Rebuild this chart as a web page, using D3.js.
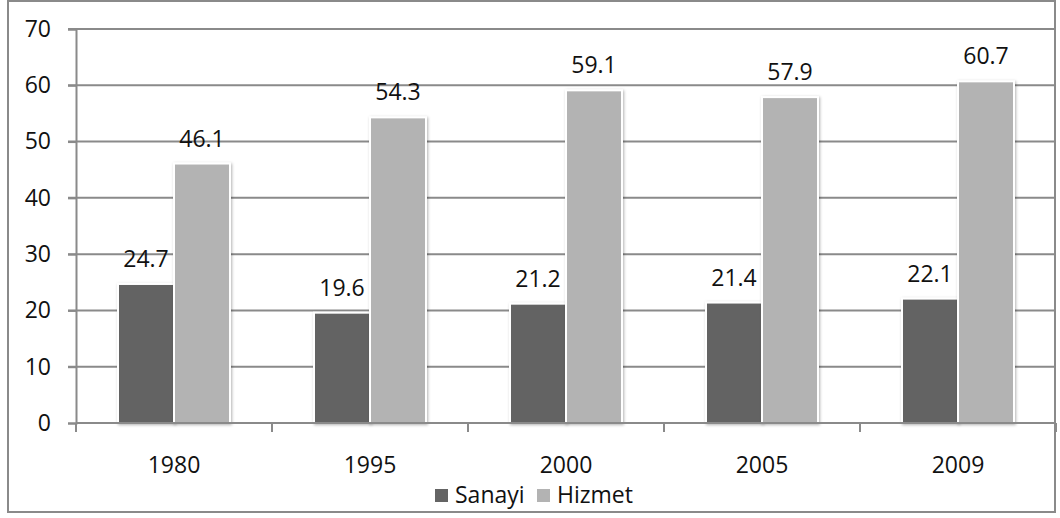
<!DOCTYPE html>
<html><head><meta charset="utf-8">
<script src="https://cdn.jsdelivr.net/npm/d3@7/dist/d3.min.js"></script>
<style>body{margin:0;background:#fff}svg{display:block}text{font-family:"Open Sans",sans-serif;fill:#111}</style>
</head><body>
<svg id="c" width="1060" height="518"></svg>
<script>
const years = ["1980","1995","2000","2005","2009"];
const seriesNames = ["Sanayi","Hizmet"];
const sanayi = [24.7,19.6,21.2,21.4,22.1];
const hizmet = [46.1,54.3,59.1,57.9,60.7];
const yTicks = [0,10,20,30,40,50,60,70];
const colors = ["#646464","#b3b3b3"];

const svg = d3.select("#c");
const defs = svg.append("defs");
const f = defs.append("filter").attr("id","sh").attr("x","-20%").attr("y","-10%").attr("width","140%").attr("height","120%");
f.append("feDropShadow").attr("dx",1).attr("dy",1).attr("stdDeviation",1.5).attr("flood-color","#000").attr("flood-opacity",0.3);

const L=76, R=1056, T=29, B=423;
const x = d3.scaleBand().domain(years).range([L,R]);
const xi = d3.scaleBand().domain(seriesNames).range([0,112]);
const y = d3.scaleLinear().domain([0,70]).range([B,T]);
const fs = 23;

// gridlines
svg.append("g").selectAll("line").data(yTicks.filter(d=>d>0)).join("line")
  .attr("x1",L-8).attr("x2",R).attr("y1",d=>y(d)).attr("y2",d=>y(d))
  .attr("stroke","#8a8a8a").attr("stroke-width",2);

// y axis
const ya = svg.append("g").attr("transform",`translate(${L},0)`).call(d3.axisLeft(y).tickValues(yTicks).tickSize(8).tickPadding(17).tickFormat(d3.format("d")));
ya.select(".domain").attr("stroke","#8a8a8a").attr("stroke-width",2);
ya.selectAll(".tick line").attr("stroke","#8a8a8a").attr("stroke-width",2);
ya.selectAll("text").style("font-size",fs+"px").style("font-family","Open Sans").attr("fill","#111");

// bars
const data = years.map((yr,i)=>({yr, vals:[sanayi[i],hizmet[i]]}));
const g = svg.append("g").selectAll("g").data(data).join("g")
  .attr("transform",d=>`translate(${x(d.yr)+x.bandwidth()/2-56},0)`);
g.selectAll("rect").data(d=>d.vals.map((v,j)=>({v,s:seriesNames[j],j}))).join("rect")
  .attr("x",d=>xi(d.s)).attr("width",xi.bandwidth())
  .attr("y",d=>y(d.v)).attr("height",d=>B-y(d.v))
  .attr("fill",d=>colors[d.j]).attr("stroke","#fff").attr("stroke-width",2)
  .attr("filter","url(#sh)");
g.selectAll("text").data(d=>d.vals.map((v,j)=>({v,s:seriesNames[j]}))).join("text")
  .attr("x",d=>xi(d.s)+xi.bandwidth()/2).attr("y",d=>y(d.v)-17)
  .attr("text-anchor","middle").style("font-size",fs+"px").text(d=>d3.format(".1f")(d.v));

// x axis
const xa = svg.append("g").attr("transform",`translate(0,${B})`).call(d3.axisBottom(x).tickSize(0).tickPadding(34));
xa.select(".domain").attr("stroke","#8a8a8a").attr("stroke-width",2).attr("d",`M${L},0H${R}`);
xa.selectAll("text").style("font-size",fs+"px").style("font-family","Open Sans").attr("fill","#111");
svg.append("g").selectAll("line").data(d3.range(years.length+1)).join("line")
  .attr("x1",i=>L+i*x.step()).attr("x2",i=>L+i*x.step()).attr("y1",B).attr("y2",B+9)
  .attr("stroke","#8a8a8a").attr("stroke-width",2);

// legend
const lg = svg.append("g");
const lx = [435,537];
seriesNames.forEach((s,i)=>{
  lg.append("rect").attr("x",lx[i]).attr("y",489).attr("width",13).attr("height",13).attr("fill",colors[i]);
  lg.append("text").attr("x",lx[i]+20).attr("y",503).style("font-size",fs+"px").text(s);
});

// outer border
svg.append("rect").attr("x",8).attr("y",1).attr("width",1047).attr("height",511)
  .attr("fill","none").attr("stroke","#8a8a8a").attr("stroke-width",2);
</script>
</body></html>
